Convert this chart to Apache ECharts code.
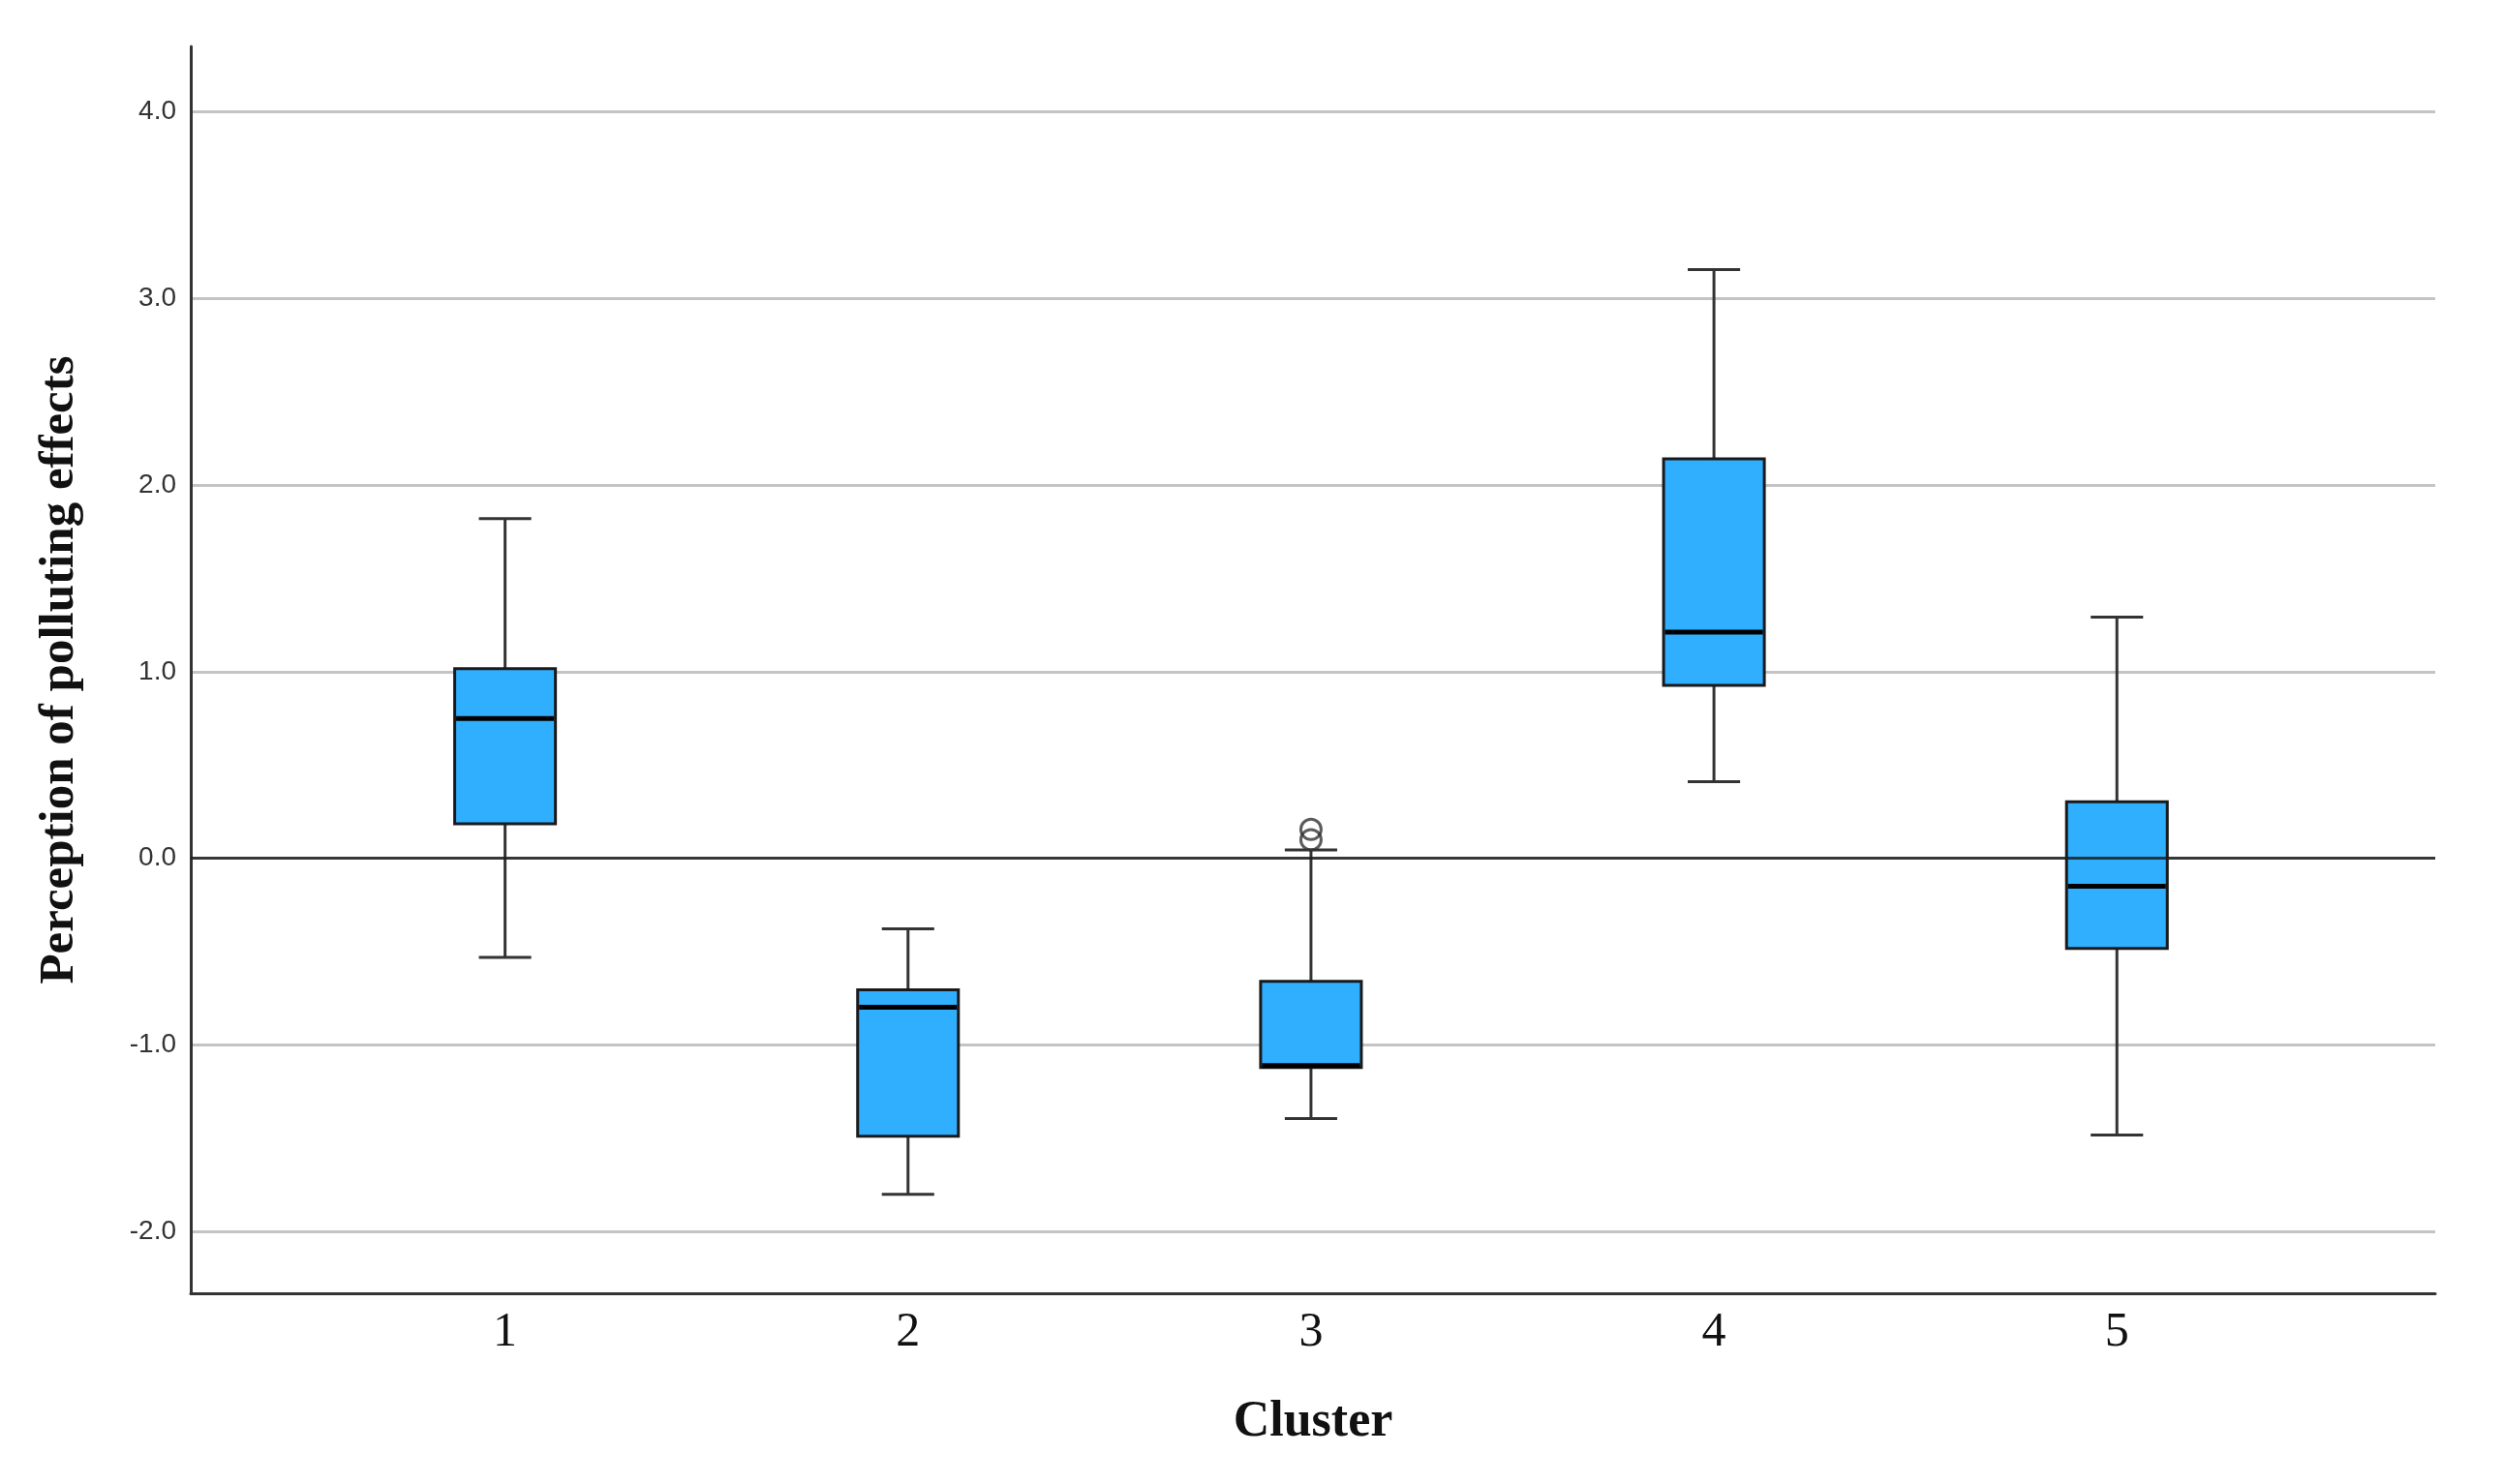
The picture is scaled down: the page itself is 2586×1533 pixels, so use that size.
<!DOCTYPE html>
<html><head><meta charset="utf-8">
<script src="https://cdn.jsdelivr.net/npm/echarts@6/dist/echarts.min.js"></script>
<style>html,body{margin:0;padding:0;background:#fff}#c{width:2586px;height:1533px}</style>
</head><body><div id="c"></div>
<script>
// ---- data ----
const clusters = [1, 2, 3, 4, 5];
const clusterLabels = ['1', '2', '3', '4', '5'];
const whiskerLow  = [-0.53, -1.80, -1.394, 0.411, -1.482];
const q1          = [0.185, -1.488, -1.12, 0.927, -0.482];
const median      = [0.749, -0.797, -1.11, 1.212, -0.149];
const q3          = [1.016, -0.704, -0.659, 2.14, 0.303];
const whiskerHigh = [1.82, -0.377, 0.045, 3.155, 1.293];
const outlierCluster = [3, 3];
const outlierValue   = [0.155, 0.10];
const yTicks = [-2, -1, 0, 1, 2, 3, 4];

const BOX_W = 0.25, CAP_W = 0.13;

const boxData = clusters.map((c, i) => [c, whiskerLow[i], q1[i], median[i], q3[i], whiskerHigh[i]]);
const outlierData = outlierCluster.map((c, i) => [c, outlierValue[i]]);

function renderBox(params, api) {
  const x = api.value(0);
  const lo = api.coord([x, api.value(1)]);
  const b1 = api.coord([x, api.value(2)]);
  const md = api.coord([x, api.value(3)]);
  const b3 = api.coord([x, api.value(4)]);
  const hi = api.coord([x, api.value(5)]);
  const bw = api.size([BOX_W, 0])[0];
  const cw = api.size([CAP_W, 0])[0];
  const cx = lo[0];
  const ls = { stroke: '#333', lineWidth: 3 };
  return {
    type: 'group',
    children: [
      { type: 'line', shape: { x1: cx, y1: hi[1], x2: cx, y2: b3[1] }, style: ls },
      { type: 'line', shape: { x1: cx, y1: b1[1], x2: cx, y2: lo[1] }, style: ls },
      { type: 'line', shape: { x1: cx - cw / 2, y1: hi[1], x2: cx + cw / 2, y2: hi[1] }, style: ls },
      { type: 'line', shape: { x1: cx - cw / 2, y1: lo[1], x2: cx + cw / 2, y2: lo[1] }, style: ls },
      { type: 'rect', shape: { x: cx - bw / 2, y: b3[1], width: bw, height: b1[1] - b3[1] },
        style: { fill: '#30AFFF', stroke: '#1a1a1a', lineWidth: 3 } },
      { type: 'line', shape: { x1: cx - bw / 2 + 1.5, y1: md[1], x2: cx + bw / 2 - 1.5, y2: md[1] },
        style: { stroke: '#000', lineWidth: 5 } }
    ]
  };
}

const chart = echarts.init(document.getElementById('c'));
chart.setOption({
  backgroundColor: '#fff',
  animation: false,
  grid: { left: 197, right: 71, top: 48, bottom: 197 },
  xAxis: {
    type: 'value', min: 0.22, max: 5.79,
    name: 'Cluster', nameLocation: 'middle', nameGap: 108,
    nameTextStyle: { fontFamily: 'Liberation Serif', fontWeight: 'bold', fontSize: 52, color: '#111' },
    axisLine: { show: true, onZero: false, lineStyle: { color: '#333', width: 3 } },
    axisTick: { show: false, customValues: clusters },
    splitLine: { show: false },
    axisLabel: {
      customValues: clusters,
      formatter: v => clusterLabels[clusters.indexOf(v)] || '',
      fontFamily: 'Liberation Serif', fontSize: 50, color: '#111', margin: 16
    }
  },
  yAxis: {
    type: 'value', min: -2.33, max: 4.35,
    name: 'Perception of polluting effects', nameLocation: 'middle', nameGap: 110,
    nameTextStyle: { fontFamily: 'Liberation Serif', fontWeight: 'bold', fontSize: 51, color: '#111' },
    axisLine: { show: true, lineStyle: { color: '#333', width: 3 } },
    axisTick: { show: false, customValues: yTicks },
    splitLine: { show: true, lineStyle: { color: '#c4c4c4', width: 3 } },
    axisLabel: {
      customValues: yTicks,
      formatter: v => v.toFixed(1),
      fontFamily: 'Liberation Sans', fontSize: 28, color: '#333', margin: 15
    }
  },
  series: [
    {
      type: 'custom', renderItem: renderBox, data: boxData, z: 2,
      encode: { x: 0, y: [1, 2, 3, 4, 5] }, silent: true
    },
    {
      type: 'scatter', data: outlierData, z: 5, symbol: 'circle', symbolSize: 21,
      itemStyle: { color: 'rgba(0,0,0,0)', borderColor: '#333', borderWidth: 3 },
      silent: true,
      markLine: {
        silent: true, symbol: 'none', label: { show: false },
        lineStyle: { color: 'rgba(30,30,30,0.85)', width: 3, type: 'solid' },
        data: [{ yAxis: 0 }]
      }
    }
  ]
});
</script>
</body></html>
